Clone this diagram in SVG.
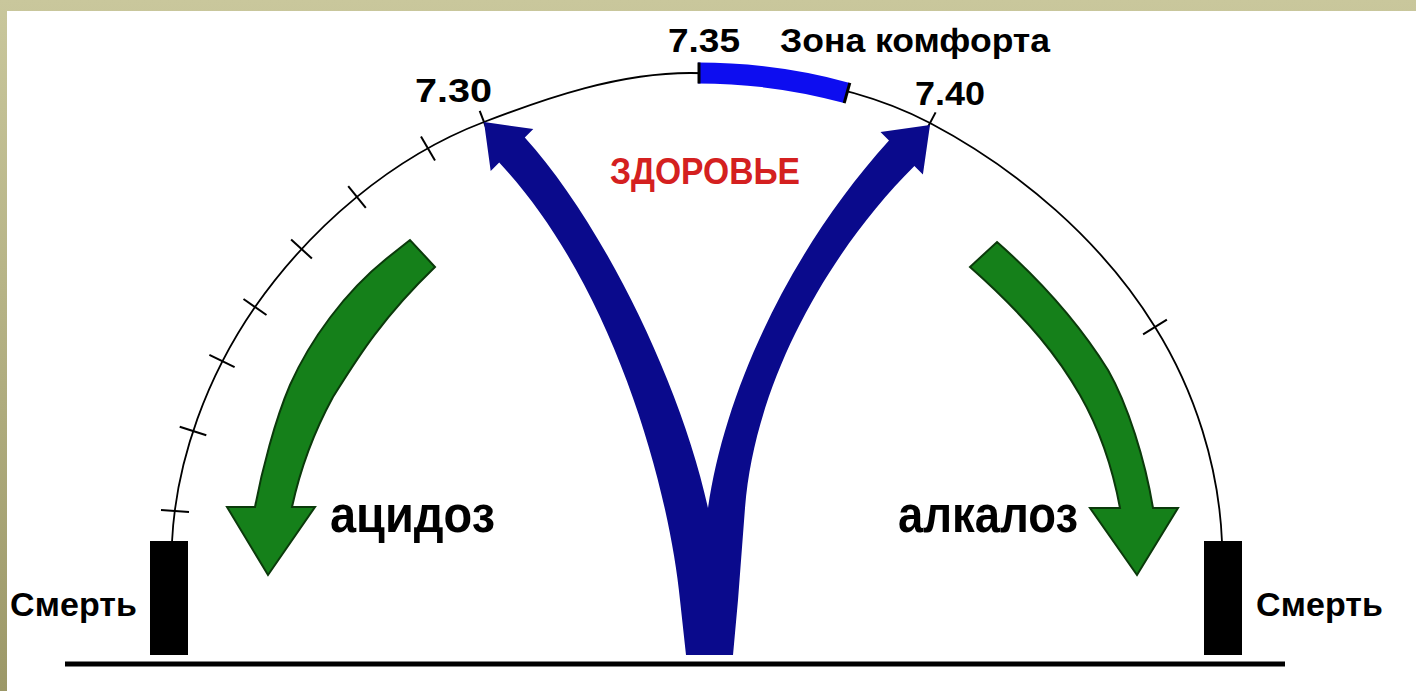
<svg xmlns="http://www.w3.org/2000/svg" width="1416" height="691" viewBox="0 0 1416 691">
<defs>
<linearGradient id="bg" x1="0" y1="0" x2="0" y2="1">
<stop offset="0" stop-color="#c9c79c"/>
<stop offset="1" stop-color="#9c9868"/>
</linearGradient>
<style>
.lbl{font-family:"Liberation Sans",Arial,sans-serif;font-weight:bold;fill:#000}
.num{font-family:"Liberation Sans",Arial,sans-serif;font-weight:bold;fill:#000;font-size:33px}
.tick{stroke:#000;stroke-width:2;fill:none}
.arc{stroke:#000;stroke-width:1.8;fill:none}
.green{fill:#15801a;stroke:#0b3a0b;stroke-width:2;stroke-linejoin:miter}
.navy{fill:#0a0a8c}
.death{fill:#000}
</style>
</defs>
<rect width="1416" height="691" fill="url(#bg)"/>
<rect x="7" y="11" width="1409" height="680" fill="#fff"/>

<g id="scale">
<path class="arc" d="M172,542 C176,459 208,375 255,307 C311,227 392,157 484,122 C549,97 620,73 690,73 C772,73 858,85 930,123 C1019,170 1102,241 1155,327 C1195,391 1219,467 1222,542"/>
<line class="tick" x1="161" y1="510" x2="189" y2="512"/>
<line class="tick" x1="179.7" y1="426.8" x2="206.3" y2="435.2"/>
<line class="tick" x1="209.4" y1="354.8" x2="234.6" y2="367.2"/>
<line class="tick" x1="243.5" y1="299" x2="266.5" y2="315"/>
<line class="tick" x1="291.1" y1="239.5" x2="311.9" y2="258.5"/>
<line class="tick" x1="348.2" y1="186.1" x2="365.8" y2="207.9"/>
<line class="tick" x1="421" y1="136.4" x2="435" y2="160.6"/>
<line class="tick" x1="479.7" y1="110.8" x2="488.3" y2="133.2"/>
<line class="tick" x1="935.6" y1="112.4" x2="924.4" y2="133.6"/>
<line class="tick" x1="1143.1" y1="334.4" x2="1166.9" y2="319.6"/>
<text class="num" x="415" y="102" textLength="77" lengthAdjust="spacingAndGlyphs">7.30</text>
<text class="num" x="915" y="105" textLength="70" lengthAdjust="spacingAndGlyphs">7.40</text>
</g>

<g id="comfort-zone">
<path d="M698,73 C750,73 800,80 847,93" fill="none" stroke="#0d0df0" stroke-width="21"/>
<line x1="699" y1="62.5" x2="699" y2="83.5" stroke="#000" stroke-width="3"/>
<line x1="849.8" y1="82.9" x2="844.2" y2="103.1" stroke="#000" stroke-width="3"/>
<text class="num" x="668" y="52" textLength="72" lengthAdjust="spacingAndGlyphs">7.35</text>
<text class="num" x="780" y="52" textLength="270" lengthAdjust="spacingAndGlyphs">Зона комфорта</text>
</g>

<g id="health">
<text class="lbl" x="610" y="184" font-size="37" style="fill:#d42020" textLength="190" lengthAdjust="spacingAndGlyphs">ЗДОРОВЬЕ</text>
</g>

<g id="connectors">
<path id="health-fork" class="navy" d="M686,655 L680,600 C668,480 610,280 499.2,162.6 L490.7,171 L484,122 L533.3,129 L524.8,137.4 C600,220 680,380 708,508 C725,390 790,250 889,140.6 L880.5,132.1 L930,125 L922.9,174.5 L914.4,166 C830,250 755,380 745,508 L738,600 L733,655 Z"/>
<path id="acidosis-arrow" class="green" d="M410,240 L386,259 C345,292 310,340 290,385 C275,420 262,470 255,507 L227,507 L268,575 L315,507 L292,507 C300,470 315,430 333,397 C355,362 380,320 435,267 Z"/>
<path id="alkalosis-arrow" class="green" d="M970,267 L997,242 C1040,280 1080,325 1108,370 C1128,405 1145,460 1153,508 L1178,508 L1137,575 L1090,508 L1120,508 C1113,470 1100,430 1080,395 C1060,360 1030,320 970,267 Z"/>
</g>

<g id="acidosis">
<text class="lbl" x="330" y="532" font-size="52" textLength="165" lengthAdjust="spacingAndGlyphs">ацидоз</text>
</g>

<g id="alkalosis">
<text class="lbl" x="898" y="532" font-size="52" textLength="180" lengthAdjust="spacingAndGlyphs">алкалоз</text>
</g>

<g id="death-left">
<rect class="death" x="150" y="541" width="38" height="114"/>
<text class="lbl" x="10" y="616" font-size="34" textLength="127">Смерть</text>
</g>

<g id="death-right">
<rect class="death" x="1204" y="541" width="38" height="114"/>
<text class="lbl" x="1256" y="616" font-size="34" textLength="127">Смерть</text>
</g>

<g id="ground">
<rect x="65" y="661.5" width="1220" height="5" fill="#000"/>
</g>
</svg>
